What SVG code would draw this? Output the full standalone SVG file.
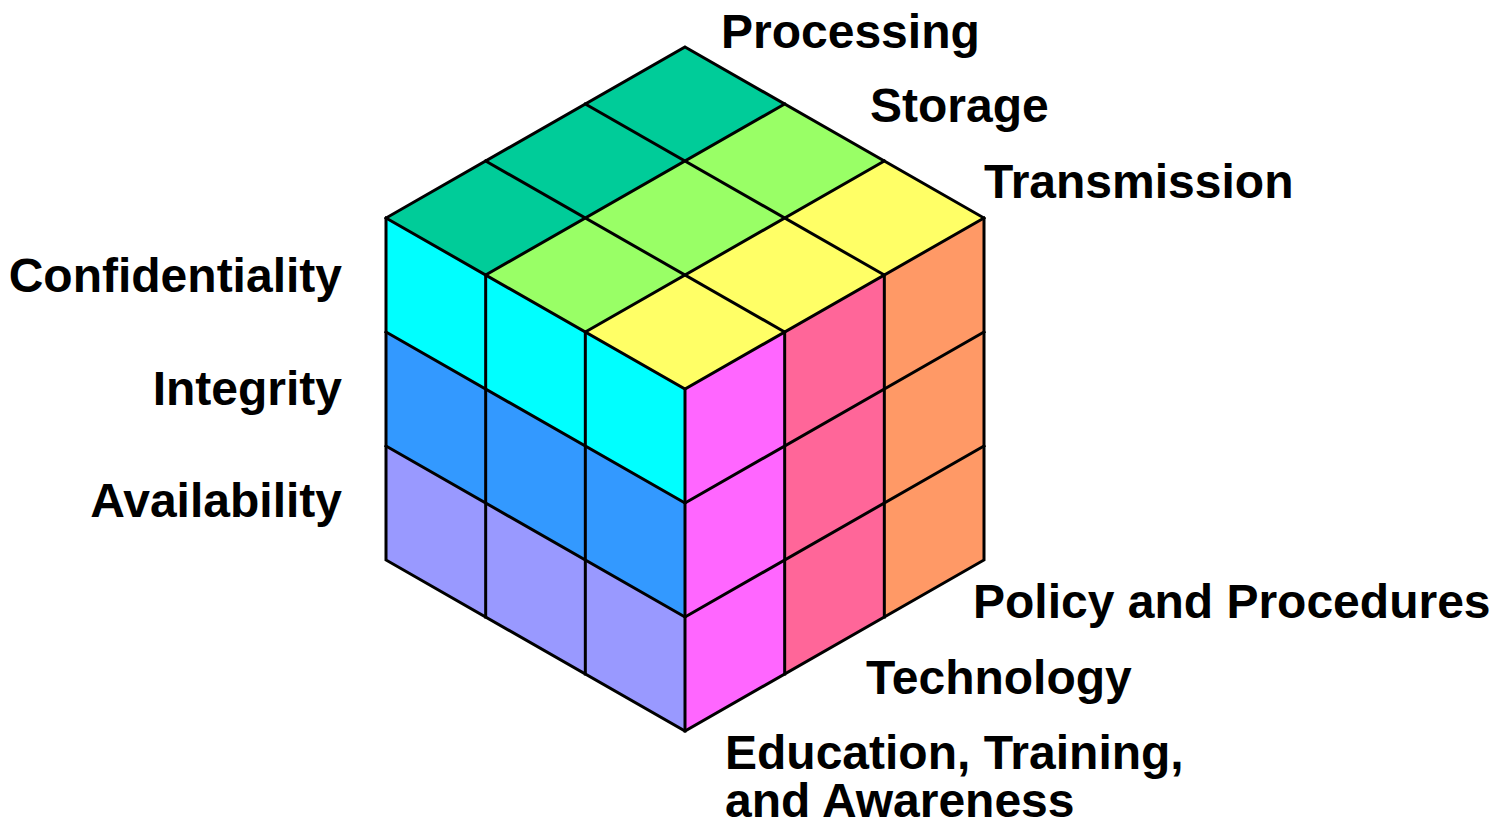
<svg xmlns="http://www.w3.org/2000/svg" width="1496" height="822" viewBox="0 0 1496 822">
  <style>
    .lbl { font-family: "Liberation Sans", Arial, sans-serif; font-weight: bold; font-size: 48px; fill: #000; }
    .end { text-anchor: end; }
    .face { stroke: none; }
    .grid { stroke: #000; stroke-width: 3; fill: none; stroke-linejoin: miter; stroke-linecap: square; }
  </style>
  <rect width="1496" height="822" fill="#ffffff"/>

  <g id="top-face">
    <polygon id="top-processing" class="face" fill="#00CC99" points="685,47 784.67,104 485.67,275 386,218"/>
    <polygon id="top-storage" class="face" fill="#99FF66" points="784.67,104 884.33,161 585.33,332 485.67,275"/>
    <polygon id="top-transmission" class="face" fill="#FFFF66" points="884.33,161 984,218 685,389 585.33,332"/>
  </g>

  <g id="left-face">
    <polygon id="left-confidentiality" class="face" fill="#00FFFF" points="386,218 685,389 685,503 386,332"/>
    <polygon id="left-integrity" class="face" fill="#3399FF" points="386,332 685,503 685,617 386,446"/>
    <polygon id="left-availability" class="face" fill="#9999FF" points="386,446 685,617 685,731 386,560"/>
  </g>

  <g id="right-face">
    <polygon id="right-education" class="face" fill="#FF66FF" points="685,389 784.67,332 784.67,674 685,731"/>
    <polygon id="right-technology" class="face" fill="#FF6699" points="784.67,332 884.33,275 884.33,617 784.67,674"/>
    <polygon id="right-policy" class="face" fill="#FF9966" points="884.33,275 984,218 984,560 884.33,617"/>
  </g>

  <g id="connectors" class="grid">
    <!-- top face grid -->
    <line x1="784.67" y1="104" x2="485.67" y2="275"/>
    <line x1="884.33" y1="161" x2="585.33" y2="332"/>
    <line x1="585.33" y1="104" x2="884.33" y2="275"/>
    <line x1="485.67" y1="161" x2="784.67" y2="332"/>
    <!-- left face grid -->
    <line x1="485.67" y1="275" x2="485.67" y2="617"/>
    <line x1="585.33" y1="332" x2="585.33" y2="674"/>
    <line x1="386" y1="332" x2="685" y2="503"/>
    <line x1="386" y1="446" x2="685" y2="617"/>
    <!-- right face grid -->
    <line x1="784.67" y1="332" x2="784.67" y2="674"/>
    <line x1="884.33" y1="275" x2="884.33" y2="617"/>
    <line x1="685" y1="503" x2="984" y2="332"/>
    <line x1="685" y1="617" x2="984" y2="446"/>
    <!-- outline and inner edges -->
    <polygon points="685,47 984,218 984,560 685,731 386,560 386,218"/>
    <polyline points="386,218 685,389 984,218"/>
    <line x1="685" y1="389" x2="685" y2="731"/>
  </g>

  <g id="label-confidentiality"><text class="lbl end" x="342" y="292">Confidentiality</text></g>
  <g id="label-integrity"><text class="lbl end" x="342" y="405">Integrity</text></g>
  <g id="label-availability"><text class="lbl end" x="342" y="517">Availability</text></g>

  <g id="label-processing"><text class="lbl" x="721" y="48">Processing</text></g>
  <g id="label-storage"><text class="lbl" x="870" y="122">Storage</text></g>
  <g id="label-transmission"><text class="lbl" x="984" y="198">Transmission</text></g>

  <g id="label-policy"><text class="lbl" x="973" y="618">Policy and Procedures</text></g>
  <g id="label-technology"><text class="lbl" x="866" y="694">Technology</text></g>
  <g id="label-education"><text class="lbl" x="725" y="769">Education, Training,</text><text class="lbl" x="725" y="817">and Awareness</text></g>
</svg>
